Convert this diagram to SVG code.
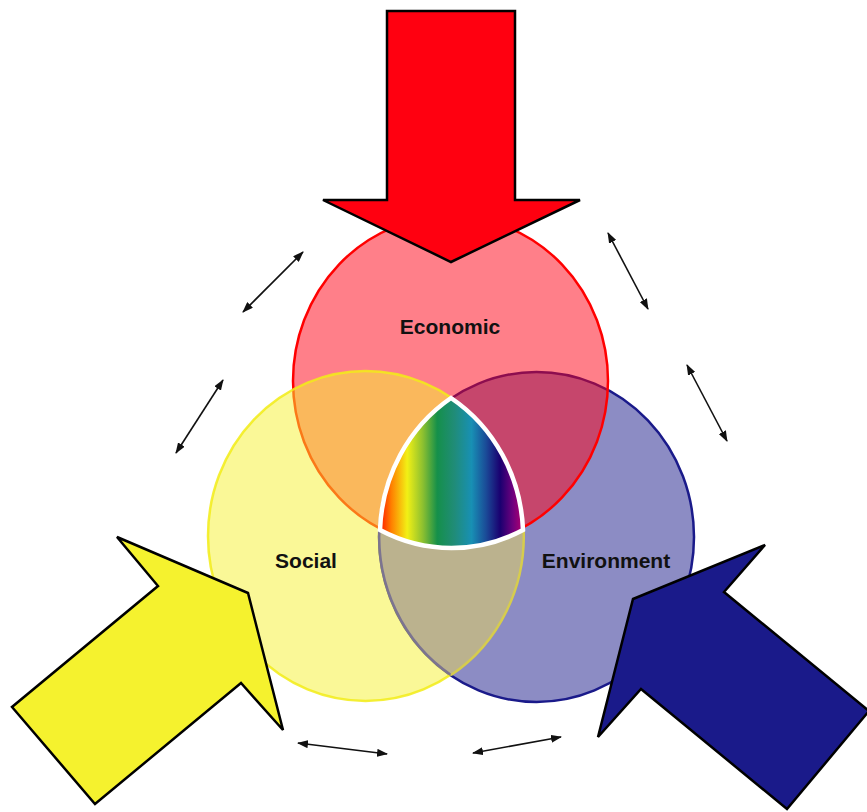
<svg xmlns="http://www.w3.org/2000/svg" width="867" height="812" viewBox="0 0 867 812">
<style>
.lbl{font-family:"Liberation Sans",Arial,sans-serif;font-weight:bold;font-size:21px;fill:#111;text-anchor:middle}
.big{stroke:#000;stroke-width:2.5;stroke-linejoin:miter}
.conn{stroke:#111;stroke-width:1.6;fill:none;marker-start:url(#ah);marker-end:url(#ah)}
</style>
<defs>
<marker id="ah" viewBox="0 0 11 8" refX="10" refY="4" markerWidth="11" markerHeight="8" markerUnits="userSpaceOnUse" orient="auto-start-reverse">
<path d="M0,0 L11,4 L0,8 z" fill="#111"/>
</marker>
<linearGradient id="rainbow" gradientUnits="userSpaceOnUse" x1="380" y1="0" x2="523" y2="0">
<stop offset="0" stop-color="#FF1800"/>
<stop offset="0.08" stop-color="#FF8000"/>
<stop offset="0.19" stop-color="#F2F015"/>
<stop offset="0.3" stop-color="#8CC030"/>
<stop offset="0.4" stop-color="#15904A"/>
<stop offset="0.52" stop-color="#208C78"/>
<stop offset="0.64" stop-color="#1890B4"/>
<stop offset="0.74" stop-color="#1A4C98"/>
<stop offset="0.84" stop-color="#1A0070"/>
<stop offset="0.93" stop-color="#70007E"/>
<stop offset="1" stop-color="#B4006E"/>
</linearGradient>
</defs>
<rect width="867" height="812" fill="#fff"/>
<g id="environment">
<ellipse cx="536.5" cy="537" rx="157.5" ry="165" fill="#191989" fill-opacity="0.5" stroke="#1A1A8A" stroke-width="2.5"/>
<text class="lbl" x="606" y="568">Environment</text>
</g>
<g id="economic">
<ellipse cx="450.5" cy="381" rx="157.5" ry="165" fill="#FF0014" fill-opacity="0.5" stroke="#FF0000" stroke-width="2.5"/>
<text class="lbl" x="450" y="334">Economic</text>
</g>
<g id="social">
<ellipse cx="365.5" cy="536" rx="157.5" ry="165" fill="#F5F230" fill-opacity="0.5" stroke="#F2EC18" stroke-width="2.5" stroke-opacity="0.85"/>
<text class="lbl" x="306" y="568">Social</text>
</g>
<g id="social-environment-overlap">
<path d="M380,530 A157.5,165 0 0 0 451,675 A157.5,165 0 0 0 523,530 A157.5,165 0 0 1 380,530 Z" fill="#BBB28E"/>
<path d="M379.5,526 A157.5,165 0 0 0 451,675" fill="none" stroke="#7C7490" stroke-width="2.5"/>
<path d="M451,675 A157.5,165 0 0 0 523.5,526" fill="none" stroke="#D6CC4E" stroke-width="2.5"/>
</g>
<g id="sustainable">
<path d="M451,398 A157.5,165 0 0 0 380,530 A157.5,165 0 0 0 523,530 A157.5,165 0 0 0 451,398 Z" fill="url(#rainbow)" stroke="#fff" stroke-width="4.5" stroke-linejoin="miter"/>
</g>
<g id="economic-arrow">
<polygon class="big" fill="#FF0010" points="387,11 515,11 515,200 580,200 451,262 323,200 387,200"/>
</g>
<g id="social-arrow">
<polygon class="big" fill="#F5F22E" points="248,593 117,537 158,586 12,707 95,804 241,683 283,730"/>
</g>
<g id="environment-arrow">
<polygon class="big" fill="#1A1A8A" points="633,599 765,545 724,592 869,711 787,809 641,689 598,737"/>
</g>
<g id="connectors">
<line class="conn" x1="303" y1="252" x2="243" y2="312"/>
<line class="conn" x1="223" y1="380" x2="176" y2="453"/>
<line class="conn" x1="608" y1="233" x2="648" y2="309"/>
<line class="conn" x1="687" y1="365" x2="727" y2="441"/>
<line class="conn" x1="298" y1="743" x2="387" y2="754"/>
<line class="conn" x1="473" y1="753" x2="561" y2="737"/>
</g>
</svg>
